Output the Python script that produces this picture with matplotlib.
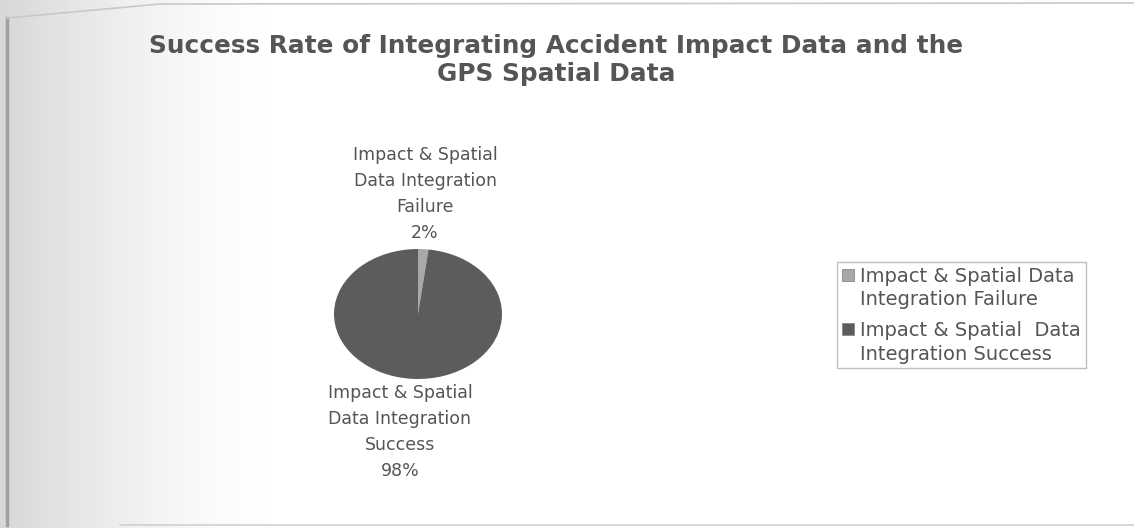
import numpy as np
import matplotlib
matplotlib.use("Agg")
import matplotlib.pyplot as plt
from matplotlib.patches import Rectangle
from matplotlib.legend_handler import HandlerPatch

# Data
categories = ["Impact & Spatial Data\nIntegration Failure",
              "Impact & Spatial  Data\nIntegration Success"]
slice_labels = ["Impact & Spatial\nData Integration\nFailure\n2%",
                "Impact & Spatial\nData Integration\nSuccess\n98%"]
shares = [2, 98]
slice_colors = ["#a8a8a8", "#5c5c5c"]
title_text = "Success Rate of Integrating Accident Impact Data and the\nGPS Spatial Data"

W, H = 1134, 528
fig = plt.figure(figsize=(W / 100, H / 100), dpi=100)
fig.patch.set_facecolor("white")

# soft grey shading along the left side of the sheet
bg = fig.add_axes([0, 0, 1, 1], zorder=-10)
bg.set_axis_off()
xs = np.linspace(0, 1, W)
shade = np.clip(1 - xs / 0.26, 0, 1) ** 1.6
img = 1 - 0.16 * shade
bg.imshow(np.tile(img, (H, 1)), cmap="gray", vmin=0, vmax=1,
          extent=[0, 1, 0, 1], aspect="auto")
bg.set_xlim(0, 1)
bg.set_ylim(0, 1)
bg.plot([7 / W, 7 / W], [3 / H, 1 - 18 / H], color="#a0a0a0", lw=2.5)
bg.plot([7 / W, 160 / W, W / W], [1 - 18 / H, 1 - 4 / H, 1 - 3 / H], color="#c8c8c8", lw=1.2)
bg.plot([120 / W, 1], [3 / H, 3 / H], color="#d0d0d0", lw=1.2)

font = "DejaVu Sans"
text_color = "#555555"

fig.text(556 / W, 1 - 60 / H, title_text, ha="center", va="center",
         fontsize=17.8, fontweight="bold", family=font, color=text_color,
         linespacing=1.25)

# pie drawn as an ellipse
pie_ax = fig.add_axes([334 / W, 1 - 379 / H, 168 / W, 130 / H])
wedges, _ = pie_ax.pie(shares, colors=slice_colors, startangle=90,
                       counterclock=False, radius=1.0,
                       wedgeprops=dict(linewidth=0))
pie_ax.set_aspect("auto")
pie_ax.set_xlim(-1, 1)
pie_ax.set_ylim(-1, 1)
pie_ax.set_axis_off()

fig.text(425 / W, 1 - 194 / H, slice_labels[0], ha="center", va="center",
         fontsize=12.5, family=font, color=text_color, linespacing=1.58)
fig.text(400 / W, 1 - 432 / H, slice_labels[1], ha="center", va="center",
         fontsize=12.5, family=font, color=text_color, linespacing=1.58)


# legend keys sit beside the first line of each two-line label
def top_square(legend, orig_handle, xdescent, ydescent, width, height, fontsize):
    s = 0.6 * fontsize
    return Rectangle((-xdescent, -ydescent + height - s + 2), s, s)


leg = fig.legend(wedges, categories, loc="upper left",
                 bbox_to_anchor=(837 / W, 1 - 262 / H),
                 frameon=True, fancybox=False, edgecolor="#b0b0b0",
                 prop=dict(family=font, size=14), labelcolor=text_color,
                 handlelength=0.6, handleheight=2.4, handletextpad=0.35,
                 borderpad=0.25, labelspacing=0.6, borderaxespad=0,
                 handler_map={w: HandlerPatch(patch_func=top_square) for w in wedges})
for t in leg.get_texts():
    t.set_linespacing(1.3)
for h in leg.legend_handles:
    h.set_edgecolor("#888888")
    h.set_linewidth(0.6)
leg.get_frame().set_linewidth(1.0)

fig.savefig("out.png", dpi=100)
